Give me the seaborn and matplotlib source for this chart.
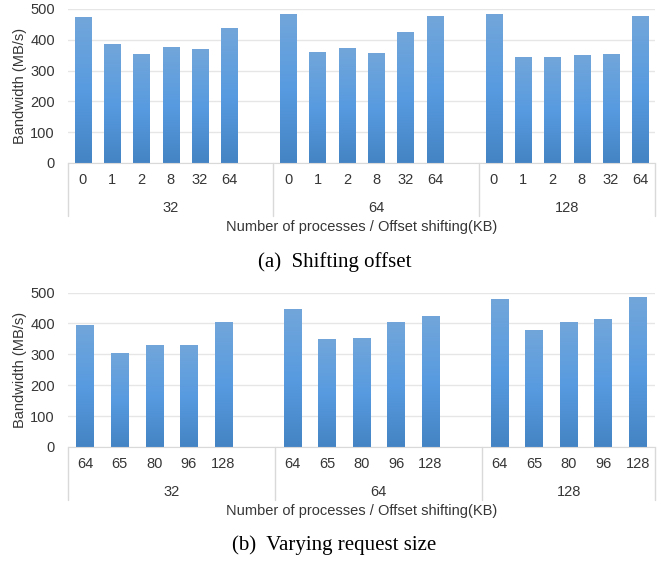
import numpy as np
import pandas as pd
import matplotlib.pyplot as plt
import seaborn as sns
from matplotlib.colors import LinearSegmentedColormap

# Number of processes (outer groups)
procs = ["32", "64", "128"]

# (a) Shifting offset (KB)
offsets = ["0", "1", "2", "8", "32", "64"]
offset_bw_32 = [473, 386, 354, 378, 369, 437]
offset_bw_64 = [485, 362, 372, 357, 424, 476]
offset_bw_128 = [483, 343, 343, 350, 354, 476]

# (b) Varying request size (KB)
sizes = ["64", "65", "80", "96", "128"]
size_bw_32 = [396, 305, 331, 331, 406]
size_bw_64 = [447, 350, 354, 403, 425]
size_bw_128 = [479, 379, 405, 415, 484]

sns.set_style("white")
plt.rcParams["font.family"] = ["Liberation Sans", "DejaVu Sans"]

FS = 10.5
TXT = "#363636"
LINE = "#d9d9d9"
bar_cmap = LinearSegmentedColormap.from_list("excel_blue", ["#4484c4", "#589be0", "#72a6da"])
grad = np.linspace(0, 1, 256).reshape(-1, 1)


def make_frame(labels, series):
    rows = []
    order = []
    for p, vals in zip(procs, series):
        for lab, v in zip(labels, vals):
            key = p + "|" + lab
            rows.append({"slot": key, "bw": v})
            order.append(key)
        if p != procs[-1]:
            order.append(p + "|gap")  # empty slot between groups
    return pd.DataFrame(rows), order


def draw_panel(ax, labels, series, width, ax_h_px):
    df, order = make_frame(labels, series)
    sns.barplot(data=df, x="slot", y="bw", order=order, color="#5b9bd5",
                width=width, ax=ax, zorder=2)

    # gradient fill per bar
    for bar in list(ax.patches):
        x0, y0 = bar.get_x(), bar.get_y()
        w, h = bar.get_width(), bar.get_height()
        im = ax.imshow(grad, extent=[x0, x0 + w, y0, y0 + h], cmap=bar_cmap,
                       aspect="auto", origin="lower", zorder=2)
        im.set_clip_path(bar)
        bar.set_facecolor("none")
        bar.set_edgecolor("none")

    n = len(order)
    ax.set_xlim(-0.5, n - 0.5)
    ax.set_ylim(0, 500)
    ax.set_yticks(range(0, 501, 100))

    pos = [i for i, k in enumerate(order) if not k.endswith("gap")]
    ax.set_xticks(pos)
    ax.set_xticklabels([order[i].split("|")[1] for i in pos])
    ax.tick_params(axis="x", length=0, pad=7.5, labelsize=FS, labelcolor=TXT)
    ax.tick_params(axis="y", length=0, pad=9.5, labelsize=FS, labelcolor=TXT)

    ax.yaxis.grid(True, color="#e6e6e6", lw=1)
    ax.set_axisbelow(True)
    for s in ["top", "right", "left"]:
        ax.spines[s].set_visible(False)
    ax.spines["bottom"].set_color(LINE)

    # group separators and group labels
    trans = ax.get_xaxis_transform()
    bounds = [-0.5]
    for i, k in enumerate(order):
        if k.endswith("gap"):
            bounds.append(i + 0.5)
    bounds.append(n - 0.5)
    sep_y = -53 / ax_h_px
    for b in bounds:
        ax.plot([b, b], [0, sep_y], transform=trans, clip_on=False, color=LINE, lw=1)
    for p, a, b in zip(procs, bounds[:-1], bounds[1:]):
        ax.text((a + b) / 2, -44.5 / ax_h_px, p, transform=trans, ha="center",
                va="center", fontsize=FS, color=TXT)

    ax.set_xlabel("")
    ax.text(0.5, -64 / ax_h_px, "Number of processes / Offset shifting(KB)",
            transform=ax.transAxes, ha="center", va="center", fontsize=FS, color=TXT)
    ax.set_ylabel("Bandwidth (MB/s)", fontsize=FS, color=TXT)
    ax.yaxis.set_label_coords(-41 / 587, 0.5)


W, H = 663, 561
fig = plt.figure(figsize=(W / 100, H / 100), dpi=100)
ax1 = fig.add_axes([68 / W, (H - 163) / H, 587 / W, 154 / H])
ax2 = fig.add_axes([68 / W, (H - 447) / H, 587 / W, 154.5 / H])

draw_panel(ax1, offsets, [offset_bw_32, offset_bw_64, offset_bw_128], 0.55, 154)
draw_panel(ax2, sizes, [size_bw_32, size_bw_64, size_bw_128], 0.51, 154.5)

fig.text(335 / W, 1 - 262 / H, "(a)  Shifting offset", ha="center", va="center",
         fontsize=15, family=["Liberation Serif", "DejaVu Serif"], color="black")
fig.text(334 / W, 1 - 545 / H, "(b)  Varying request size", ha="center", va="center",
         fontsize=15, family=["Liberation Serif", "DejaVu Serif"], color="black")

fig.savefig("out.png", dpi=100)
